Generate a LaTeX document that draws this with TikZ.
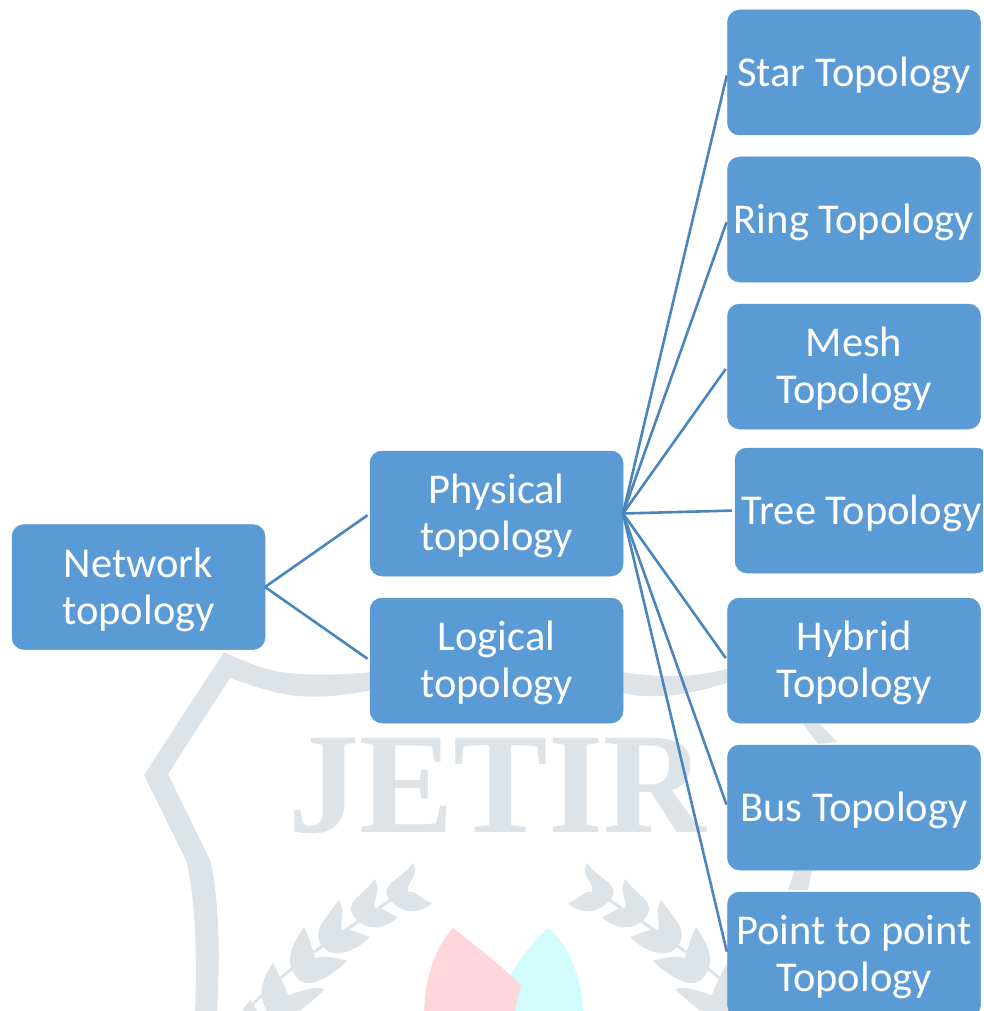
\documentclass[tikz,border=0pt]{standalone}
\usepackage{fontspec}
\setmainfont{Carlito}
\newfontfamily\wmfont{Liberation Serif}
\definecolor{boxblue}{HTML}{5B9BD5}
\definecolor{linkblue}{HTML}{4A86BE}
\definecolor{wmgrey}{HTML}{DDE3E6}
\definecolor{wmpink}{HTML}{FFD6DC}
\definecolor{wmcyan}{HTML}{D2FBFB}
\tikzset{
  topobox/.style={fill=boxblue,draw=boxblue,line width=0.5pt,rounded corners=12pt,minimum width=253pt,minimum height=125pt,outer sep=0pt,inner sep=0pt,text=white,font=\fontsize{42.5}{47}\selectfont},
  link/.style={draw=linkblue,line width=2.6pt,shorten >=3pt},
  wm/.style={fill=wmgrey,draw=none}
}
\newcommand{\boxtext}[1]{\raisebox{-10.5pt}[0pt][0pt]{\begin{tabular}{@{}c@{}}#1\end{tabular}}}
% base, up tip, notch, right tip
\newcommand{\wmleaf}[8]{\fill[wm] (#1,#2) .. controls ({#1-13},{#2-15}) and ({#3-13},{#4+18}) .. (#3,#4) .. controls ({#3+7},{#4+14}) and ({#5-3},{#6-9}) .. (#5,#6) .. controls ({#5+8},{#6-2}) and ({#7-12},{#8-4}) .. (#7,#8) .. controls ({#7-12},{#8+12}) and ({#1+12},{#2+14}) .. (#1,#2) -- cycle;}
\newcommand{\wmbranch}{
  \draw[wmgrey,line width=3pt] (232,1030) .. controls (270,975) and (340,935) .. (395,897);
  \wmleaf{390}{900}{413}{863}{408}{892}{432}{903}
  \wmleaf{355}{918}{375}{879}{375}{908}{398}{917}
  \wmleaf{323}{947}{339}{900}{342}{930}{370}{937}
  \wmleaf{297}{978}{304}{927}{315}{958}{347}{961}
  \wmleaf{270}{1015}{273}{963}{288}{995}{325}{989}
  \wmleaf{236}{1045}{250}{1000}{270}{1025}{300}{1030}
}
\begin{document}
\begin{tikzpicture}[x=1pt,y=-1pt]
\useasboundingbox (0,0) rectangle (983,1011);
\clip (0,0) rectangle (983,1011);
% watermark
\fill[wm] (224,652) .. controls (240,660) and (260,668) .. (280,672) .. controls (310,676) and (340,675) .. (372,672) -- (372,690) .. controls (340,697) and (310,698) .. (290,695) .. controls (270,692) and (250,685) .. (230,678) -- (168,774) -- (210,860) .. controls (218,890) and (221,950) .. (217,1011) -- (195,1011) .. controls (197,960) and (196,900) .. (186,860) -- (144,775) -- cycle;
\fill[wm] (622,672) .. controls (660,678) and (695,678) .. (730,668) -- (730,682) .. controls (690,695) and (655,700) .. (622,693) -- cycle;
\fill[wm] (803,724) -- (820,724) -- (837,742) -- (818,744) -- cycle;
\fill[wm] (795,870) -- (812,870) -- (808,890) -- (788,890) -- cycle;
\node[inner sep=0pt,text=wmgrey,anchor=base,font=\wmfont\bfseries\fontsize{144}{144}\selectfont] (wmtext) at (497,832) {\scalebox{0.985}[1]{JETIR}};
\wmbranch
\begin{scope}[xscale=-1,xshift=-1000pt]\wmbranch\end{scope}
\fill[wmcyan] (548,928) .. controls (525,950) and (512,970) .. (503,990) -- (515,1011) -- (583,1011) .. controls (582,980) and (570,945) .. (548,928) -- cycle;
\fill[wmpink] (453,928) .. controls (432,950) and (425,985) .. (424,1011) -- (515,1011) -- (521,985) .. controls (500,965) and (475,945) .. (453,928) -- cycle;
% boxes
\node[topobox] (net) at (138.5,587) {\boxtext{Network\\topology}};
\node[topobox] (phy) at (496.5,513.5) {\boxtext{Physical\\topology}};
\node[topobox] (log) at (496.5,660.5) {\boxtext{Logical\\topology}};
\node[topobox] (star) at (854,72.5) {\boxtext{Star Topology}};
\node[topobox] (ring) at (854,219.5) {\boxtext{Ring Topology}};
\node[topobox] (mesh) at (854,366.5) {\boxtext{Mesh\\Topology}};
\node[topobox] (tree) at (861.5,510.5) {\boxtext{Tree Topology}};
\node[topobox] (hyb) at (854,660.5) {\boxtext{Hybrid\\Topology}};
\node[topobox] (bus) at (854,807.5) {\boxtext{Bus Topology}};
\node[topobox] (ptp) at (854,954.5) {\boxtext{Point to point\\Topology}};
% connectors
\draw[link] (net.east) -- (phy.west);
\draw[link] (net.east) -- (log.west);
\foreach \t in {star,ring,mesh,tree,hyb,bus,ptp}
  \draw[link] (phy.east) -- (\t.west);
\end{tikzpicture}
\end{document}
